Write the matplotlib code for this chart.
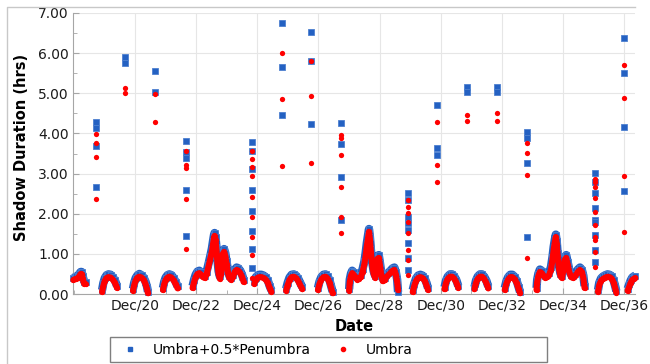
import matplotlib.pyplot as plt
from matplotlib.lines import Line2D
from matplotlib.patches import Rectangle

# dates are decimal years, durations in hours

# dense seasonal band (one entry per date, both series)
band_dates = [
    # winter 18/19
    2018.90, 2018.95, 2019.00, 2019.05, 2019.10, 2019.14, 2019.17, 2019.19, 2019.21, 2019.23, 2019.26, 2019.30,
    # winter 19/20
    2019.84, 2019.88, 2019.93, 2019.99, 2020.05, 2020.12, 2020.19, 2020.26, 2020.33,
    # winter 20/21
    2020.85, 2020.89, 2020.94, 2021.00, 2021.06, 2021.13, 2021.20, 2021.26, 2021.31, 2021.34,
    # winter 21/22
    2021.83, 2021.87, 2021.92, 2021.98, 2022.04, 2022.11, 2022.18, 2022.25, 2022.31,
    # 22-24
    2022.80, 2022.85, 2022.90, 2022.96, 2023.02, 2023.08, 2023.14, 2023.20, 2023.26, 2023.32,
    2023.38, 2023.43, 2023.47, 2023.50, 2023.52, 2023.55, 2023.58, 2023.61, 2023.65, 2023.69,
    2023.73, 2023.76, 2023.79, 2023.83, 2023.87, 2023.91, 2023.95, 2024.00, 2024.06, 2024.12,
    2024.18, 2024.24, 2024.30, 2024.36, 2024.42, 2024.47,
    # winter 24/25
    2024.82, 2024.86, 2024.92, 2024.98, 2025.05, 2025.12, 2025.19, 2025.26, 2025.32, 2025.38,
    # winter 25/26
    2025.86, 2025.91, 2025.97, 2026.04, 2026.11, 2026.18, 2026.25, 2026.32, 2026.39,
    # winter 26/27
    2026.90, 2026.95, 2027.01, 2027.08, 2027.15, 2027.22, 2027.28, 2027.33, 2027.38,
    # 27-29
    2027.92, 2027.94, 2027.98, 2028.02, 2028.07, 2028.12, 2028.18, 2028.24, 2028.30, 2028.36,
    2028.42, 2028.46, 2028.50, 2028.54, 2028.57, 2028.60, 2028.63, 2028.67, 2028.72, 2028.77,
    2028.81, 2028.85, 2028.89, 2028.93, 2028.97, 2029.02, 2029.08, 2029.14, 2029.20, 2029.27,
    2029.34, 2029.40, 2029.45, 2029.49, 2029.52,
    # winter 29/30
    2030.00, 2030.05, 2030.11, 2030.18, 2030.25, 2030.32, 2030.39, 2030.45, 2030.50,
    # winter 30/31
    2031.04, 2031.09, 2031.15, 2031.22, 2031.29, 2031.36, 2031.43, 2031.49,
    # winter 31/32
    2032.02, 2032.07, 2032.13, 2032.20, 2032.27, 2032.34, 2032.41, 2032.47,
    # winter 32/33
    2033.01, 2033.06, 2033.12, 2033.19, 2033.26, 2033.33, 2033.40, 2033.46, 2033.51,
    # 33-35
    2034.05, 2034.07, 2034.11, 2034.16, 2034.22, 2034.28, 2034.34, 2034.40, 2034.46, 2034.52,
    2034.57, 2034.61, 2034.65, 2034.68, 2034.71, 2034.74, 2034.78, 2034.83, 2034.88, 2034.93,
    2034.97, 2035.02, 2035.07, 2035.12, 2035.18, 2035.25, 2035.32, 2035.40, 2035.47, 2035.53,
    2035.58, 2035.62,
    # winter 35/36
    2036.06, 2036.10, 2036.16, 2036.23, 2036.30, 2036.37, 2036.44, 2036.51, 2036.57, 2036.62, 2036.66,
    # winter 36/37
    2037.03, 2037.08, 2037.13, 2037.18, 2037.23, 2037.28,
]

band_umbra = [
    0.35, 0.37, 0.38, 0.40, 0.45, 0.50, 0.50, 0.44, 0.38, 0.31, 0.25, 0.25,
    0.05, 0.20, 0.33, 0.40, 0.42, 0.41, 0.36, 0.28, 0.15,
    0.08, 0.22, 0.34, 0.41, 0.43, 0.41, 0.35, 0.25, 0.12, 0.02,
    0.10, 0.24, 0.35, 0.41, 0.43, 0.41, 0.34, 0.24, 0.14,
    0.15, 0.30, 0.42, 0.50, 0.52, 0.48, 0.42, 0.40, 0.50, 0.68,
    0.88, 1.05, 1.25, 1.40, 1.45, 1.35, 1.10, 0.80, 0.50, 0.38,
    0.50, 0.80, 1.00, 1.05, 0.95, 0.75, 0.55, 0.40, 0.35, 0.42,
    0.55, 0.60, 0.58, 0.52, 0.42, 0.30,
    0.25, 0.35, 0.40, 0.42, 0.42, 0.40, 0.36, 0.28, 0.15, 0.05,
    0.08, 0.22, 0.35, 0.42, 0.43, 0.40, 0.33, 0.22, 0.12,
    0.10, 0.25, 0.36, 0.42, 0.43, 0.38, 0.28, 0.15, 0.02,
    0.08, 0.30, 0.45, 0.52, 0.48, 0.42, 0.36, 0.38, 0.42, 0.55,
    0.75, 0.95, 1.20, 1.40, 1.55, 1.35, 1.05, 0.75, 0.50, 0.40,
    0.60, 0.88, 0.90, 0.70, 0.48, 0.32, 0.35, 0.42, 0.47, 0.52,
    0.58, 0.60, 0.48, 0.30, 0.10,
    0.05, 0.20, 0.33, 0.40, 0.42, 0.40, 0.33, 0.22, 0.10,
    0.12, 0.28, 0.38, 0.43, 0.43, 0.38, 0.28, 0.15,
    0.12, 0.28, 0.38, 0.43, 0.43, 0.37, 0.27, 0.14,
    0.10, 0.25, 0.36, 0.42, 0.42, 0.37, 0.27, 0.13, 0.02,
    0.10, 0.30, 0.45, 0.55, 0.52, 0.45, 0.40, 0.42, 0.47, 0.60,
    0.85, 1.10, 1.30, 1.42, 1.25, 0.95, 0.65, 0.45, 0.40, 0.60,
    0.85, 0.90, 0.72, 0.55, 0.42, 0.40, 0.45, 0.55, 0.60, 0.55,
    0.40, 0.15,
    0.05, 0.22, 0.33, 0.38, 0.41, 0.43, 0.42, 0.38, 0.28, 0.15, 0.03,
    0.08, 0.18, 0.28, 0.35, 0.38, 0.40,
]

band_penumbra = [
    0.40, 0.42, 0.44, 0.46, 0.51, 0.55, 0.55, 0.50, 0.44, 0.37, 0.31, 0.30,
    0.10, 0.27, 0.40, 0.47, 0.49, 0.48, 0.42, 0.34, 0.20,
    0.13, 0.28, 0.40, 0.47, 0.50, 0.47, 0.41, 0.31, 0.18, 0.06,
    0.15, 0.30, 0.41, 0.47, 0.49, 0.47, 0.40, 0.30, 0.19,
    0.20, 0.36, 0.48, 0.56, 0.58, 0.54, 0.48, 0.46, 0.56, 0.75,
    0.95, 1.13, 1.33, 1.47, 1.52, 1.42, 1.18, 0.88, 0.57, 0.44,
    0.57, 0.87, 1.07, 1.12, 1.02, 0.82, 0.62, 0.46, 0.41, 0.48,
    0.61, 0.66, 0.64, 0.58, 0.48, 0.35,
    0.30, 0.41, 0.46, 0.48, 0.48, 0.46, 0.42, 0.34, 0.20, 0.09,
    0.13, 0.28, 0.41, 0.48, 0.49, 0.46, 0.39, 0.28, 0.17,
    0.15, 0.31, 0.42, 0.48, 0.49, 0.44, 0.34, 0.20, 0.06,
    0.12, 0.36, 0.51, 0.58, 0.54, 0.48, 0.42, 0.44, 0.48, 0.62,
    0.82, 1.03, 1.28, 1.48, 1.62, 1.43, 1.13, 0.82, 0.57, 0.46,
    0.67, 0.95, 0.97, 0.77, 0.54, 0.38, 0.41, 0.48, 0.53, 0.58,
    0.64, 0.66, 0.54, 0.36, 0.05,
    0.10, 0.26, 0.39, 0.46, 0.48, 0.46, 0.39, 0.28, 0.15,
    0.17, 0.34, 0.44, 0.49, 0.49, 0.44, 0.34, 0.20,
    0.17, 0.34, 0.44, 0.49, 0.49, 0.43, 0.33, 0.19,
    0.15, 0.31, 0.42, 0.48, 0.48, 0.43, 0.33, 0.18, 0.05,
    0.15, 0.36, 0.51, 0.61, 0.58, 0.51, 0.46, 0.48, 0.53, 0.67,
    0.92, 1.18, 1.37, 1.48, 1.32, 1.02, 0.72, 0.51, 0.46, 0.67,
    0.92, 0.97, 0.79, 0.61, 0.48, 0.46, 0.51, 0.61, 0.66, 0.61,
    0.46, 0.20,
    0.10, 0.28, 0.39, 0.44, 0.47, 0.49, 0.48, 0.44, 0.34, 0.20, 0.07,
    0.13, 0.24, 0.34, 0.41, 0.44, 0.46,
]

# isolated longer shadows
spike_dates_penumbra = [
    2019.64, 2019.64, 2019.64, 2019.64,
    2020.59, 2020.59,
    2021.57, 2021.57,
    2022.59, 2022.59, 2022.59, 2022.59, 2022.59,
    2024.74, 2024.74, 2024.74, 2024.74, 2024.74, 2024.74, 2024.74, 2024.74,
    2025.73, 2025.73, 2025.73,
    2026.67, 2026.67, 2026.67,
    2027.66, 2027.66, 2027.66, 2027.66,
    2029.85, 2029.85, 2029.85, 2029.85, 2029.85, 2029.85, 2029.85, 2029.85,
    2030.80, 2030.80, 2030.80,
    2031.78, 2031.78,
    2032.76, 2032.76,
    2033.74, 2033.74, 2033.74, 2033.74,
    2035.96, 2035.96, 2035.96, 2035.96, 2035.96, 2035.96, 2035.96, 2035.96, 2035.96,
    2036.91, 2036.91, 2036.91, 2036.91,
]
spike_penumbra = [
    4.28, 4.13, 3.69, 2.67,
    5.90, 5.75,
    5.56, 5.03,
    3.81, 3.54, 3.38, 2.59, 1.44,
    3.79, 3.55, 3.11, 2.59, 2.07, 1.57, 1.12, 0.64,
    6.75, 5.65, 4.46,
    6.53, 5.81, 4.24,
    4.27, 3.74, 2.92, 1.84,
    2.52, 2.34, 1.92, 1.77, 1.59, 1.27, 0.90, 0.60,
    4.71, 3.64, 3.46,
    5.16, 5.03,
    5.16, 5.03,
    4.04, 3.89, 3.26, 1.42,
    3.01, 2.79, 2.52, 2.14, 1.84, 1.79, 1.47, 1.10, 0.80,
    6.38, 5.51, 4.16, 2.57,
]

spike_dates_umbra = [
    2019.64, 2019.64, 2019.64, 2019.64,
    2020.59, 2020.59,
    2021.57, 2021.57,
    2022.59, 2022.59, 2022.59, 2022.59, 2022.59,
    2024.74, 2024.74, 2024.74, 2024.74, 2024.74, 2024.74, 2024.74, 2024.74, 2024.74,
    2025.73, 2025.73, 2025.73,
    2026.67, 2026.67, 2026.67,
    2027.66, 2027.66, 2027.66, 2027.66, 2027.66, 2027.66,
    2029.85, 2029.85, 2029.85, 2029.85, 2029.85, 2029.85, 2029.85, 2029.85,
    2030.80, 2030.80, 2030.80,
    2031.78, 2031.78,
    2032.76, 2032.76,
    2033.74, 2033.74, 2033.74, 2033.74,
    2035.96, 2035.96, 2035.96, 2035.96, 2035.96, 2035.96, 2035.96, 2035.96, 2035.96, 2035.96,
    2036.91, 2036.91, 2036.91, 2036.91,
]
spike_umbra = [
    3.99, 3.76, 3.41, 2.37,
    5.13, 5.00,
    4.98, 4.29,
    3.55, 3.22, 3.15, 2.37, 1.12,
    3.55, 3.37, 3.17, 2.94, 2.42, 1.92, 1.42, 0.97, 0.40,
    6.00, 4.86, 3.19,
    5.81, 4.92, 3.26,
    3.96, 3.89, 3.46, 2.67, 1.91, 1.53,
    2.34, 2.17, 2.02, 1.79, 1.52, 1.10, 0.85, 0.47,
    4.29, 3.21, 2.80,
    4.46, 4.31,
    4.51, 4.31,
    3.76, 3.51, 2.96, 0.90,
    2.86, 2.79, 2.67, 2.39, 2.04, 1.72, 1.42, 1.35, 1.05, 0.67,
    5.70, 4.89, 2.94, 1.54,
]

tick_years = [2020, 2022, 2024, 2026, 2028, 2030, 2032, 2034, 2036]
tick_labels = ["Dec/20", "Dec/22", "Dec/24", "Dec/26", "Dec/28", "Dec/30", "Dec/32", "Dec/34", "Dec/36"]

BLUE = "#2461c2"
RED = "#ff0000"
W, H = 650, 364

plt.rcParams["font.family"] = "DejaVu Sans"
fig = plt.figure(figsize=(W / 100, H / 100), dpi=100)
ax = fig.add_axes([73 / W, 1 - 294 / H, 562 / W, 281 / H])

# split the band into its seasons so the dense runs read as one thick trace
segments = []
start = 0
for i in range(1, len(band_dates) + 1):
    if i == len(band_dates) or band_dates[i] - band_dates[i - 1] > 0.2:
        segments.append((start, i))
        start = i

for a, b in segments:
    ax.plot(band_dates[a:b], band_penumbra[a:b], color=BLUE, linewidth=6,
            solid_capstyle="butt", solid_joinstyle="round", clip_on=False, zorder=2)
for a, b in segments:
    ax.plot(band_dates[a:b], band_umbra[a:b], color=RED, linewidth=4.4,
            solid_capstyle="round", solid_joinstyle="round", clip_on=False, zorder=4)

blue_kw = dict(linestyle="none", marker="s", markersize=5, color=BLUE,
               markeredgecolor="#4d80d0", markeredgewidth=0.6, clip_on=False, zorder=3)
red_kw = dict(linestyle="none", marker="o", markersize=3.8, color=RED,
              markeredgewidth=0, clip_on=False, zorder=5)

ax.plot(band_dates, band_penumbra, **blue_kw)
ax.plot(spike_dates_penumbra, spike_penumbra, **blue_kw)
ax.plot(band_dates, band_umbra, **red_kw)
ax.plot(spike_dates_umbra, spike_umbra, **red_kw)

ax.set_xlim(2018.889, 2037.27)
ax.set_ylim(0, 7)
ax.set_xticks([y + 11 / 12 for y in tick_years])
ax.set_xticklabels(tick_labels)
ax.set_xticks([y + 1 + 11 / 12 for y in tick_years[:-1]] + [2018 + 11 / 12], minor=True)
ax.set_yticks(range(8))
ax.set_yticklabels(["%.2f" % v for v in range(8)])
ax.set_yticks([v + 0.5 for v in range(7)], minor=True)

ax.grid(True, which="major", color="#e6e6e6", linewidth=0.8, zorder=0)
ax.set_axisbelow(True)
for s in ["top", "right"]:
    ax.spines[s].set_visible(False)
for s in ["left", "bottom"]:
    ax.spines[s].set_color("#a6a6a6")
ax.tick_params(which="both", direction="in", colors="#a6a6a6", labelcolor="#1a1a1a", labelsize=10)
ax.tick_params(which="major", length=4, pad=3)
ax.tick_params(which="minor", length=3)

ax.set_xlabel("Date", fontsize=10.5, fontweight="bold")
ax.set_ylabel("Shadow Duration (hrs)", fontsize=10.5, fontweight="bold")
ax.xaxis.set_label_coords(0.5, (294 - 319) / 281)
ax.yaxis.set_label_coords((29 - 73) / 562, 0.52)

# legend inside a fixed-width box
handles = [
    Line2D([], [], linestyle="none", marker="s", markersize=3, color=BLUE),
    Line2D([], [], linestyle="none", marker="o", markersize=3, color=RED),
]
fig.legend(handles, ["Umbra+0.5*Penumbra", "Umbra"], loc="center left",
           bbox_to_anchor=(123 / W, 1 - 349.5 / H), ncol=2, frameon=False,
           fontsize=10, handlelength=1.0, handletextpad=1.15, columnspacing=1.8,
           borderpad=0, borderaxespad=0)
fig.patches.append(Rectangle((110 / W, 1 - 362 / H), 437 / W, 25 / H,
                             transform=fig.transFigure, fill=False,
                             edgecolor="#7f7f7f", linewidth=1))

# outer frame
fig.add_artist(Line2D([7 / W, 7 / W, 635 / W], [0, 1 - 7 / H, 1 - 7 / H],
                      transform=fig.transFigure, color="#c8c8c8", linewidth=1))

fig.savefig("out.png", dpi=100)
